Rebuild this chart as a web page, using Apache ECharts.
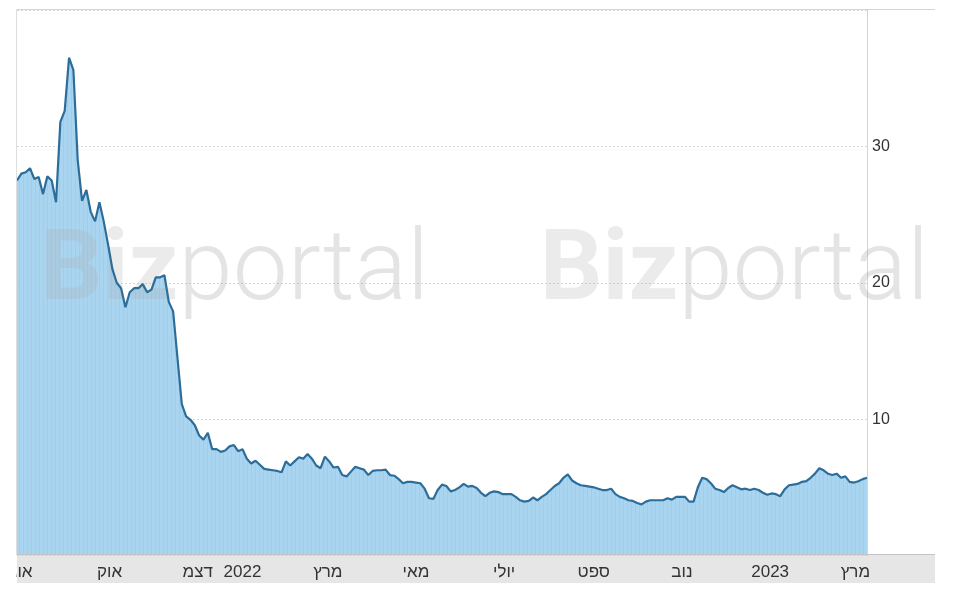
<!DOCTYPE html>
<html><head><meta charset="utf-8">
<script src="https://cdn.jsdelivr.net/npm/echarts@6/dist/echarts.min.js"></script>
<style>html,body{margin:0;padding:0;background:#fff}#c{width:957px;height:598px}</style>
</head><body><div id="c"></div>
<script>
// Sampling: one reading every 3 days starting 2021-07-29
const startDate = [2021, 6, 29];
const stepDays = 3;
const prices = [
27.5,28.0,28.1,28.4,27.6,27.75,26.5,27.8,27.5,25.9,
31.8,32.6,36.5,35.6,29.0,26.0,26.8,25.2,24.5,25.9,
24.5,22.8,21.0,20.0,19.6,18.2,19.3,19.6,19.6,19.9,
19.3,19.5,20.4,20.4,20.55,18.6,17.9,14.5,11.1,10.2,
9.95,9.55,8.8,8.5,9.0,7.8,7.8,7.6,7.7,8.0,
8.1,7.65,7.8,7.1,6.75,6.95,6.65,6.35,6.3,6.25,
6.2,6.1,6.9,6.6,6.9,7.2,7.1,7.45,7.1,6.6,
6.4,7.25,6.9,6.45,6.5,5.9,5.8,6.15,6.5,6.4,
6.3,5.9,6.2,6.25,6.25,6.3,5.9,5.85,5.6,5.3,
5.4,5.4,5.35,5.3,4.9,4.2,4.15,4.8,5.2,5.1,
4.7,4.8,5.0,5.25,5.05,5.1,4.95,4.6,4.35,4.6,
4.7,4.65,4.5,4.5,4.5,4.3,4.05,3.95,4.0,4.25,
4.05,4.3,4.5,4.8,5.1,5.3,5.7,5.95,5.5,5.3,
5.15,5.1,5.05,5.0,4.9,4.8,4.8,4.9,4.5,4.3,
4.2,4.05,4.0,3.85,3.75,3.95,4.05,4.05,4.05,4.05,
4.2,4.1,4.3,4.3,4.3,3.95,3.95,5.0,5.7,5.6,
5.3,4.9,4.8,4.65,4.95,5.15,5.0,4.85,4.9,4.8,
4.9,4.8,4.6,4.45,4.55,4.5,4.35,4.85,5.15,5.2,
5.25,5.4,5.45,5.7,6.0,6.4,6.25,6.0,5.9,6.0,
5.7,5.8,5.4,5.35,5.45,5.6,5.7
];
const tickDates = ['2021-08-01','2021-10-01','2021-12-01','2022-01-01','2022-03-01','2022-05-01','2022-07-01','2022-09-01','2022-11-01','2023-01-01','2023-03-01'];
const tickLabels = ['אוג','אוק','דצמ','2022','מרץ','מאי','יולי','ספט','נוב','2023','מרץ'];
const yTicks = [10, 20, 30];
const axisMinDate = '2021-07-29';
const axisMaxDate = '2023-03-09';

function parseD(s){const p=s.split('-').map(Number);return +new Date(p[0],p[1]-1,p[2]);}
const data = prices.map((v,i)=>[+new Date(startDate[0],startDate[1],startDate[2]+i*stepDays), v]);
const tickTimes = tickDates.map(parseD);

// striped fill pattern
const pc = document.createElement('canvas'); pc.width=4; pc.height=8;
const g = pc.getContext('2d'); g.fillStyle='#aad5f0'; g.fillRect(0,0,4,8); g.fillStyle='#9fcdeb'; g.fillRect(3,0,1,8);

const chart = echarts.init(document.getElementById('c'), null, {renderer:'canvas'});
const wm = (x)=>({type:'text', x:x, y:274, z:3, silent:true,
  style:{text:'{a|Biz}{b|portal}', verticalAlign:'middle', rich:{
    a:{fontFamily:'Roboto', fontWeight:'bold', fontSize:98, fill:'rgba(170,170,170,0.24)'},
    b:{fontFamily:'Roboto', fontWeight:300, fontSize:98, fill:'rgba(165,165,165,0.30)'}}}});
chart.setOption({
  animation:false,
  backgroundColor:'#fff',
  grid:{left:17, right:90, top:10, bottom:42.5},
  xAxis:{type:'value', min:parseD(axisMinDate), max:parseD(axisMaxDate), z:10,
    axisLine:{show:false}, axisTick:{show:false}, splitLine:{show:false},
    axisLabel:{customValues:tickTimes, hideOverlap:false, showMinLabel:true, showMaxLabel:true, margin:8, color:'#333', fontSize:17, fontFamily:'Liberation Sans, Arial',
      formatter:(v)=>{const i=tickTimes.indexOf(v);return i>=0?tickLabels[i]:'';}}},
  yAxis:{type:'value', position:'right', min:0, max:40, interval:10,
    axisLine:{show:true, lineStyle:{color:'#d4d4d4'}}, axisTick:{show:false},
    axisLabel:{margin:5, color:'#333', fontSize:16, fontFamily:'Liberation Sans, Arial',
      formatter:(v)=>yTicks.indexOf(v)>=0?String(v):''},
    splitLine:{show:true, lineStyle:{color:'#d6d6d6', type:[2,2], width:1}}},
  graphic:[
    {type:'rect', z:-1, silent:true, shape:{x:17,y:555,width:918,height:28}, style:{fill:'#e6e6e6'}},
    {type:'line', z:20, silent:true, shape:{x1:17,y1:554.5,x2:935,y2:554.5}, style:{stroke:'#c4c4c4',lineWidth:1}},
    {type:'line', z:20, silent:true, shape:{x1:17,y1:9.5,x2:935,y2:9.5}, style:{stroke:'#d4d4d4',lineWidth:1}},
    {type:'line', z:20, silent:true, shape:{x1:16.5,y1:9.5,x2:16.5,y2:555}, style:{stroke:'#dedede',lineWidth:1}},
    {type:'rect', z:50, silent:true, shape:{x:0,y:555,width:16.5,height:43}, style:{fill:'#fff'}},
    wm(40), wm(540)
  ],
  series:[
    {type:'line', data:data, z:1, showSymbol:false, silent:true, lineStyle:{width:0}, areaStyle:{color:{image:pc, repeat:'repeat'}, opacity:1}},
    {type:'line', data:data, z:5, showSymbol:false, silent:true, lineStyle:{color:'#2c6d9a', width:2.2}}
  ]
});
</script></body></html>
